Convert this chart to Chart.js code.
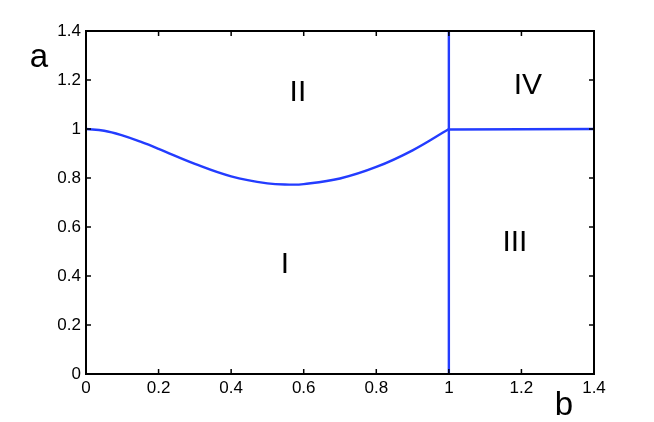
<!DOCTYPE html>
<html>
<head>
<meta charset="utf-8">
<script src="https://cdn.jsdelivr.net/npm/chart.js@4"></script>
<style>
  html, body { margin: 0; padding: 0; background: #fff; }
  #wrap { width: 654px; height: 422px; }
</style>
</head>
<body>
<div id="wrap"><canvas id="c" width="654" height="422"></canvas></div>
<script>
// boundary curve between I and II
const curveB = [0, 0.05, 0.1, 0.15, 0.2, 0.3, 0.4, 0.5, 0.56, 0.6, 0.7, 0.8, 0.9, 1.0];
const curveA = [1.0, 0.993, 0.974, 0.948, 0.919, 0.858, 0.807, 0.778, 0.773, 0.775, 0.798, 0.845, 0.913, 1.0];
// vertical line b = 1
const vertB = [1.0, 1.0];
const vertA = [0, 1.4];
// horizontal line a = 1 for b > 1
const horizB = [1.0, 1.4];
const horizA = [0.998, 1.0];
const tickVals = [0, 0.2, 0.4, 0.6, 0.8, 1, 1.2, 1.4];
// region labels
const regionNames = ['I', 'II', 'III', 'IV'];
const regionB = [0.548, 0.584, 1.182, 1.218];
const regionA = [0.457, 1.159, 0.547, 1.188];

const blue = 'rgb(35,60,255)';
const fontFam = '"Liberation Sans", Arial, sans-serif';
const pts = (xs, ys) => xs.map((x, i) => ({x: x, y: ys[i]}));

// frame, inward ticks and texts
const decor = {
  id: 'decor',
  afterDatasetsDraw(chart) {
    const ctx = chart.ctx, a = chart.chartArea;
    const xs = chart.scales.x, ys = chart.scales.y;
    ctx.save();
    ctx.strokeStyle = '#000';
    ctx.lineWidth = 2;
    ctx.strokeRect(a.left, a.top, a.right - a.left, a.bottom - a.top);
    ctx.lineWidth = 1.5;
    ctx.beginPath();
    tickVals.forEach(v => {
      const px = xs.getPixelForValue(v);
      ctx.moveTo(px, a.bottom); ctx.lineTo(px, a.bottom - 5);
      ctx.moveTo(px, a.top); ctx.lineTo(px, a.top + 5);
      const py = ys.getPixelForValue(v);
      ctx.moveTo(a.left, py); ctx.lineTo(a.left + 5, py);
      ctx.moveTo(a.right, py); ctx.lineTo(a.right - 5, py);
    });
    ctx.stroke();
    ctx.fillStyle = '#000';
    ctx.textAlign = 'center';
    ctx.textBaseline = 'alphabetic';
    ctx.font = '30px ' + fontFam;
    regionNames.forEach((t, i) => {
      ctx.fillText(t, xs.getPixelForValue(regionB[i]), ys.getPixelForValue(regionA[i]) + 11);
    });
    ctx.font = '33px ' + fontFam;
    ctx.fillText('a', a.left - 47, a.top + 36);
    ctx.fillText('b', a.right - 30, a.bottom + 41);
    ctx.restore();
  }
};

const lineStyle = {
  borderColor: blue, backgroundColor: blue, borderWidth: 2.4,
  pointRadius: 0, showLine: true, fill: false
};

const tickFont = { family: fontFam, size: 17 };

new Chart(document.getElementById('c'), {
  type: 'scatter',
  data: {
    datasets: [
      Object.assign({data: pts(curveB, curveA), tension: 0.4}, lineStyle),
      Object.assign({data: pts(vertB, vertA)}, lineStyle),
      Object.assign({data: pts(horizB, horizA)}, lineStyle)
    ]
  },
  options: {
    responsive: false,
    animation: false,
    layout: { padding: { top: 31, right: 60, left: 0, bottom: 0 } },
    plugins: { legend: { display: false }, tooltip: { enabled: false } },
    scales: {
      x: {
        type: 'linear', min: 0, max: 1.4,
        afterFit: s => { s.height = 48; },
        afterBuildTicks: s => { s.ticks = tickVals.map(v => ({value: v})); },
        grid: { display: false, drawTicks: false },
        border: { display: false },
        ticks: {
          padding: 4, color: '#000', maxRotation: 0, autoSkip: false,
          font: tickFont,
          callback: v => String(Math.round(v * 10) / 10)
        }
      },
      y: {
        type: 'linear', min: 0, max: 1.4,
        afterFit: s => { s.width = 86; },
        afterBuildTicks: s => { s.ticks = tickVals.map(v => ({value: v})); },
        grid: { display: false, drawTicks: false },
        border: { display: false },
        ticks: {
          padding: 5, color: '#000', autoSkip: false,
          font: tickFont,
          callback: v => String(Math.round(v * 10) / 10)
        }
      }
    }
  },
  plugins: [decor]
});
</script>
</body>
</html>
